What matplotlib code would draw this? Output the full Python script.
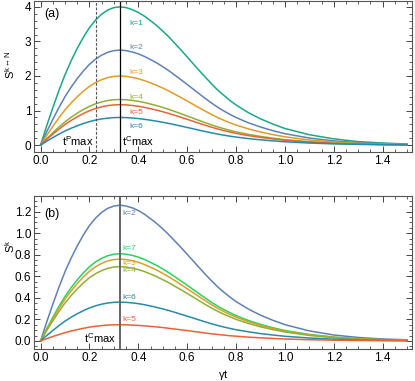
import matplotlib
matplotlib.use("Agg")
import matplotlib.pyplot as plt
from matplotlib.ticker import MultipleLocator

plt.rcParams['font.family'] = ['Liberation Sans', 'DejaVu Sans']
plt.rcParams['mathtext.fontset'] = 'custom'
plt.rcParams['mathtext.rm'] = 'Liberation Sans'
plt.rcParams['mathtext.it'] = 'Liberation Sans'

# time axis (gamma t), shared by every curve
t = [0, 0.025, 0.05, 0.075, 0.1, 0.125, 0.15, 0.175, 0.2, 0.225, 0.25, 0.275, 0.3, 0.325,
     0.35, 0.375, 0.4, 0.425, 0.45, 0.475, 0.5, 0.525, 0.55, 0.575, 0.6, 0.625, 0.65, 0.675,
     0.7, 0.725, 0.75, 0.775, 0.8, 0.85, 0.9, 0.95, 1.0, 1.1, 1.2, 1.3, 1.4, 1.5]

# panel (a): S^{k<->N}
sa_k1 = [0, 0.56, 1.08, 1.58, 2.04, 2.44, 2.80, 3.12, 3.40, 3.62, 3.79, 3.91, 3.98, 4.00,
         3.98, 3.92, 3.84, 3.73, 3.60, 3.46, 3.30, 3.13, 2.94, 2.75, 2.55, 2.35, 2.15, 1.96,
         1.77, 1.59, 1.44, 1.29, 1.16, 0.94, 0.76, 0.61, 0.48, 0.30, 0.18, 0.10, 0.06, 0.03]
sa_k2 = [0, 0.385, 0.743, 1.086, 1.403, 1.678, 1.925, 2.145, 2.338, 2.489, 2.604, 2.687, 2.734, 2.75,
         2.734, 2.695, 2.64, 2.566, 2.475, 2.379, 2.269, 2.151, 2.021, 1.889, 1.755, 1.617, 1.48, 1.345,
         1.216, 1.095, 0.987, 0.888, 0.798, 0.646, 0.523, 0.418, 0.33, 0.204, 0.121, 0.069, 0.039, 0.022]
sa_k3 = [0, 0.28, 0.54, 0.79, 1.02, 1.22, 1.40, 1.56, 1.70, 1.81, 1.894, 1.954, 1.988, 2.00,
         1.988, 1.96, 1.92, 1.866, 1.80, 1.73, 1.65, 1.564, 1.47, 1.374, 1.276, 1.176, 1.076, 0.978,
         0.884, 0.796, 0.718, 0.646, 0.58, 0.47, 0.38, 0.304, 0.24, 0.148, 0.088, 0.05, 0.028, 0.016]
sa_k4 = [0, 0.185, 0.356, 0.521, 0.673, 0.805, 0.924, 1.03, 1.122, 1.195, 1.25, 1.29, 1.312, 1.32,
         1.312, 1.294, 1.267, 1.232, 1.188, 1.142, 1.089, 1.032, 0.970, 0.907, 0.842, 0.776, 0.710, 0.645,
         0.583, 0.525, 0.474, 0.426, 0.383, 0.310, 0.251, 0.201, 0.158, 0.098, 0.058, 0.033, 0.018, 0.011]
sa_k5 = [0, 0.164, 0.316, 0.462, 0.597, 0.714, 0.819, 0.913, 0.995, 1.059, 1.108, 1.143, 1.163, 1.17,
         1.163, 1.147, 1.123, 1.092, 1.053, 1.012, 0.965, 0.915, 0.860, 0.804, 0.746, 0.688, 0.629, 0.572,
         0.517, 0.466, 0.42, 0.378, 0.339, 0.275, 0.222, 0.178, 0.14, 0.087, 0.051, 0.029, 0.016, 0.009]
sa_k6 = [0, 0.112, 0.216, 0.316, 0.408, 0.488, 0.56, 0.624, 0.68, 0.724, 0.758, 0.78, 0.795, 0.80,
         0.795, 0.784, 0.768, 0.746, 0.72, 0.692, 0.66, 0.626, 0.588, 0.55, 0.51, 0.47, 0.43, 0.391,
         0.354, 0.318, 0.287, 0.258, 0.232, 0.188, 0.152, 0.122, 0.096, 0.059, 0.035, 0.02, 0.011, 0.006]

# panel (b): S^k
sb_k2 = [0, 0.176, 0.340, 0.498, 0.643, 0.769, 0.882, 0.983, 1.071, 1.140, 1.193, 1.231, 1.252, 1.26,
         1.252, 1.235, 1.210, 1.176, 1.134, 1.090, 1.040, 0.985, 0.926, 0.866, 0.804, 0.741, 0.678, 0.616,
         0.557, 0.501, 0.452, 0.407, 0.365, 0.296, 0.239, 0.192, 0.151, 0.093, 0.055, 0.032, 0.018, 0.010]
sb_k7 = [0, 0.113, 0.219, 0.320, 0.413, 0.494, 0.567, 0.632, 0.689, 0.733, 0.767, 0.791, 0.805, 0.81,
         0.805, 0.794, 0.778, 0.756, 0.729, 0.701, 0.668, 0.633, 0.595, 0.556, 0.517, 0.476, 0.436, 0.396,
         0.358, 0.322, 0.291, 0.262, 0.235, 0.190, 0.154, 0.123, 0.097, 0.060, 0.036, 0.020, 0.011, 0.006]
sb_k3 = [0, 0.106, 0.205, 0.300, 0.388, 0.464, 0.532, 0.593, 0.646, 0.688, 0.720, 0.743, 0.755, 0.76,
         0.755, 0.745, 0.730, 0.709, 0.684, 0.657, 0.627, 0.594, 0.559, 0.522, 0.485, 0.447, 0.409, 0.372,
         0.336, 0.302, 0.273, 0.245, 0.220, 0.179, 0.144, 0.116, 0.091, 0.056, 0.033, 0.019, 0.011, 0.006]
sb_k4 = [0, 0.097, 0.186, 0.273, 0.352, 0.421, 0.483, 0.538, 0.587, 0.624, 0.653, 0.674, 0.686, 0.69,
         0.686, 0.676, 0.662, 0.644, 0.621, 0.597, 0.569, 0.540, 0.507, 0.474, 0.440, 0.406, 0.371, 0.337,
         0.305, 0.275, 0.248, 0.223, 0.200, 0.162, 0.131, 0.105, 0.083, 0.051, 0.030, 0.017, 0.010, 0.006]
sb_k6 = [0, 0.050, 0.097, 0.142, 0.184, 0.220, 0.252, 0.281, 0.306, 0.326, 0.341, 0.352, 0.358, 0.36,
         0.358, 0.353, 0.346, 0.336, 0.324, 0.311, 0.297, 0.282, 0.265, 0.247, 0.230, 0.212, 0.194, 0.176,
         0.159, 0.143, 0.129, 0.116, 0.104, 0.085, 0.068, 0.055, 0.043, 0.027, 0.016, 0.009, 0.005, 0.003]
sb_k5 = [0, 0.021, 0.041, 0.059, 0.077, 0.092, 0.105, 0.117, 0.128, 0.136, 0.142, 0.147, 0.149, 0.15,
         0.149, 0.147, 0.144, 0.140, 0.135, 0.130, 0.124, 0.117, 0.110, 0.103, 0.096, 0.088, 0.081, 0.073,
         0.066, 0.060, 0.054, 0.048, 0.044, 0.035, 0.029, 0.023, 0.018, 0.011, 0.007, 0.004, 0.002, 0.001]

t_max_c = 0.325
t_max_p = 0.225

col = {1: "#18a888", 2: "#5e81b5", 3: "#e19c24", 4: "#8fb032",
       5: "#eb6235", 6: "#268ba7", 7: "#22d660"}

curves_a = [(1, sa_k1, 3.52), (2, sa_k2, 2.82), (3, sa_k3, 2.09),
            (4, sa_k4, 1.38), (5, sa_k5, 0.93), (6, sa_k6, 0.55)]
curves_b = [(2, sb_k2, 1.18), (7, sb_k7, 0.86), (3, sb_k3, 0.715),
            (4, sb_k4, 0.655), (6, sb_k6, 0.40), (5, sb_k5, 0.20)]

fig = plt.figure(figsize=(4.15, 3.81), dpi=100)
ax1 = fig.add_axes([34 / 415, 1 - 152 / 381, 378 / 415, 151 / 381])
ax2 = fig.add_axes([34 / 415, 1 - 349 / 381, 378 / 415, 153 / 381])


def style(ax, ymajor, yminor):
    ax.set_xlim(-0.027, 1.52)
    ax.xaxis.set_major_locator(MultipleLocator(0.2))
    ax.xaxis.set_minor_locator(MultipleLocator(0.05))
    ax.yaxis.set_major_locator(MultipleLocator(ymajor))
    ax.yaxis.set_minor_locator(MultipleLocator(yminor))
    ax.tick_params(which='both', direction='in', top=True, right=True,
                   color='#444444', labelsize=8.5, pad=2)
    ax.tick_params(which='major', length=4, width=0.7)
    ax.tick_params(which='minor', length=2, width=0.6)
    for s in ax.spines.values():
        s.set_color('#555555')
        s.set_linewidth(0.8)


style(ax1, 1, 0.2)
ax1.set_ylim(-0.2, 4.17)
ax1.xaxis.set_major_formatter(lambda v, p: f"{v:.1f}")
for k, ys, ly in curves_a:
    ax1.plot(t, ys, color=col[k], lw=1.1)
    ax1.text(0.365, ly, f"k={k}", color=col[k], fontsize=6, va='center')
ax1.axvline(t_max_c, color='black', lw=0.9)
ax1.axvline(t_max_p, color='#555555', lw=0.8, ls=(0, (2.5, 1.5)))
ax1.text(0.218, -0.08, r'$\mathregular{t^P max}$', fontsize=8, ha='right', va='bottom')
ax1.text(0.335, -0.08, r'$\mathregular{t^C max}$', fontsize=8, ha='left', va='bottom')
ax1.text(0.015, 3.78, '(a)', fontsize=9, va='center')
ax1.set_ylabel(r'$\mathregular{S^{k\leftrightarrow N}}$', fontsize=8)
ax1.yaxis.set_label_coords(-0.045, 0.58)

style(ax2, 0.2, 0.05)
ax2.set_ylim(-0.075, 1.345)
ax2.xaxis.set_major_formatter(lambda v, p: f"{v:.1f}")
ax2.yaxis.set_major_formatter(lambda v, p: f"{v:.1f}")
for k, ys, ly in curves_b:
    ax2.plot(t, ys, color=col[k], lw=1.1)
    ax2.text(0.333, ly, f"k={k}", color=col[k], fontsize=6, va='center')
ax2.axvline(t_max_c, color='#666666', lw=1.4)
ax2.text(0.31, -0.04, r'$\mathregular{t^C max}$', fontsize=8, ha='right', va='bottom')
ax2.text(0.015, 1.18, '(b)', fontsize=9, va='center')
ax2.set_ylabel(r'$\mathregular{S^k}$', fontsize=8)
ax2.yaxis.set_label_coords(-0.045, 0.67)
ax2.set_xlabel(r'$\mathregular{\gamma t}$', fontsize=8, labelpad=3)

fig.savefig("out.png", dpi=100)
